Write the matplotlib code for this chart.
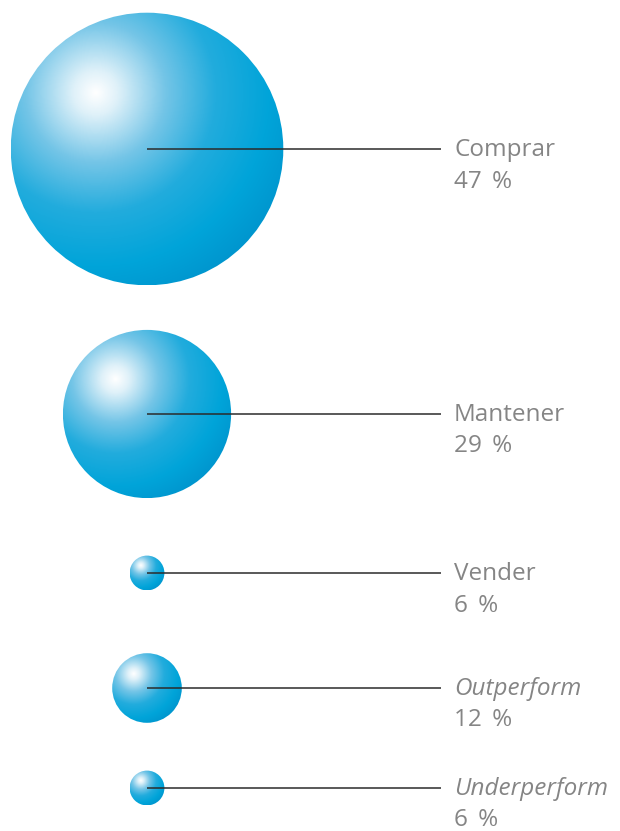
import numpy as np
import matplotlib
matplotlib.use("Agg")
import matplotlib.pyplot as plt
from matplotlib.patches import Circle
from matplotlib.colors import LinearSegmentedColormap

# Data
categories = ["Comprar", "Mantener", "Vender", "Outperform", "Underperform"]
values = [47, 29, 6, 12, 6]
italic = [False, False, False, True, True]

# Layout (pixels)
W, H = 620, 831
cx = 147
centers_y = [149, 414, 573, 688, 788]
scale = 2.9  # radius px per percentage point
line_end = 441
label_x = 455

fig = plt.figure(figsize=(W / 100, H / 100), dpi=100)
ax = fig.add_axes([0, 0, 1, 1])
ax.set_xlim(0, W)
ax.set_ylim(H, 0)
ax.set_aspect("equal")
ax.axis("off")

cmap = LinearSegmentedColormap.from_list(
    "sphere",
    [(0.0, "#ffffff"), (0.1, "#dff1f9"), (0.32, "#74c5e7"),
     (0.55, "#22acdd"), (0.8, "#00a4d9"), (1.0, "#0094cd")])

fam = ["Open Sans", "DejaVu Sans"]
n = 300
for cat, val, it, cy in zip(categories, values, italic, centers_y):
    r = val * scale
    xs = np.linspace(-1, 1, n)
    X, Y = np.meshgrid(xs, xs)
    hx, hy = -0.38, -0.41
    d = np.sqrt((X - hx) ** 2 + (Y - hy) ** 2) / 1.6
    d = np.clip(d, 0, 1)
    circ = Circle((cx, cy), r, transform=ax.transData, facecolor="none", edgecolor="none")
    ax.add_patch(circ)
    im = ax.imshow(d, cmap=cmap, vmin=0, vmax=1,
                   extent=[cx - r, cx + r, cy + r, cy - r],
                   interpolation="bilinear", zorder=1)
    im.set_clip_path(circ)
    ax.plot([cx, line_end], [cy, cy], color="#2b2b2b", lw=1.1, zorder=3,
            solid_capstyle="butt")
    ax.text(label_x - 1, cy + 1, cat, fontsize=17.5, color="#858585",
            family=fam, style="italic" if it else "normal",
            va="center", ha="left")
    ax.text(label_x - 1, cy + 32.5, f"{val}\u2009 %", fontsize=17.5, color="#858585",
            family=fam, va="center", ha="left")

ax.set_xlim(0, W)
ax.set_ylim(H, 0)
fig.savefig("out.png", dpi=100)
